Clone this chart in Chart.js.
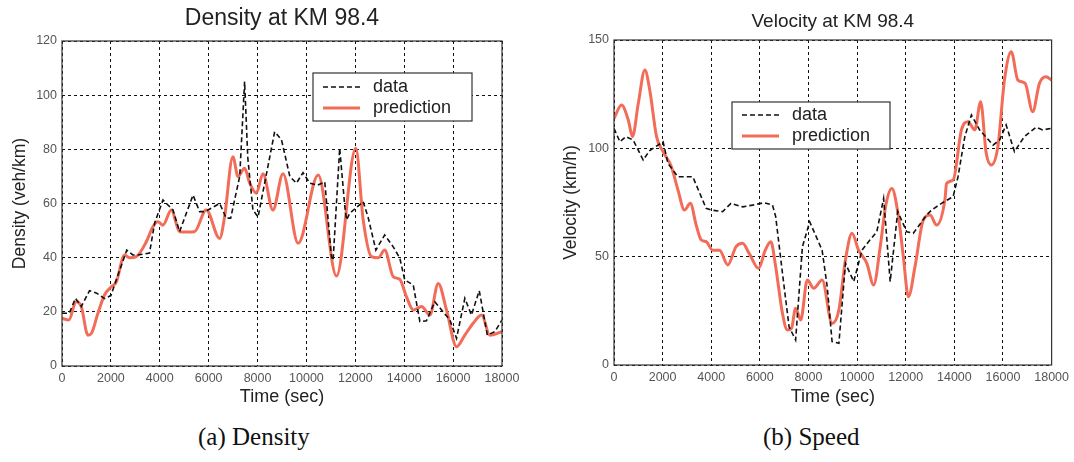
<!DOCTYPE html>
<html lang="en">
<head>
<meta charset="UTF-8">
<title>Density and Velocity at KM 98.4</title>
<style>
    * { margin: 0; padding: 0; box-sizing: border-box; }
    body { width: 1074px; height: 462px; background: #fff; position: relative; overflow: hidden; font-family: Arial, sans-serif; }
    .box { position: absolute; top: 0; height: 412px; }
    #left { left: 0; width: 540px; }
    #right { left: 545px; width: 529px; }
    .caption { position: absolute; top: 423px; font-family: "Liberation Serif", "DejaVu Serif", serif; font-size: 25px; color: #111; }
</style>
</head>
<body>
<div class="box" id="left"><canvas id="densityChart"></canvas></div>
<div class="box" id="right"><canvas id="velocityChart"></canvas></div>
<div class="caption" style="left:198px">(a) Density</div>
<div class="caption" style="left:763px">(b) Speed</div>

<script src="https://cdn.jsdelivr.net/npm/chart.js"></script>
<script>
    // density at KM 98.4 (veh/km)
    const densityDataT = [0, 300, 550, 790, 1125, 1400, 1740, 2000, 2220, 2650, 2900, 3100, 3580, 3790, 4130, 4540, 4810, 5360, 5630, 5800, 5970, 6450, 6720, 6900, 7270, 7470, 7600, 7810, 8020, 8700, 8980, 9320, 9590, 9860, 10135, 10460, 10750, 11020, 11090, 11360, 11570, 11640, 11770, 12320, 12520, 12840, 13200, 13550, 13820, 14020, 14370, 14640, 14910, 15250, 15590, 15870, 16140, 16480, 16750, 17070, 17400, 17710, 18000];
    const densityData = [19.5, 19.5, 25, 22, 27.8, 27, 24.9, 26, 31.8, 42.8, 41, 41, 41.7, 52.8, 61.3, 57.6, 49.6, 63.1, 57, 57, 57.6, 60, 54.6, 54.6, 70, 105, 77, 57.6, 55, 86.5, 83.5, 70, 67.5, 71.4, 67.5, 66.8, 68, 40.4, 39, 80.4, 58.8, 54, 56.4, 60.7, 55, 42.8, 48.4, 44, 39.8, 31.8, 29.9, 16.4, 16.7, 23.7, 20, 17, 10.2, 25, 18.8, 27.8, 11.4, 12.7, 17];
    const densityPredT = [0, 280, 580, 790, 1060, 1200, 1470, 1740, 2020, 2220, 2560, 2760, 3040, 3450, 3720, 3920, 4130, 4470, 4810, 5020, 5420, 5900, 6450, 6650, 6990, 7200, 7470, 7680, 7950, 8220, 8630, 9040, 9660, 10480, 11230, 12020, 12320, 12660, 12940, 13200, 13550, 13820, 14090, 14370, 14710, 15050, 15390, 15730, 16140, 16480, 16820, 17170, 17500, 18000];
    const densityPred = [17.6, 17, 23.7, 21.9, 11.4, 12, 19.5, 26.2, 29.3, 31, 41, 40, 40.4, 45.9, 51.4, 53.3, 52, 57.6, 49.6, 49.5, 49.6, 57.6, 47.1, 55, 77.3, 70, 73, 67.5, 63.8, 71, 57.6, 71, 45.3, 70.5, 33.2, 80.4, 54, 40.4, 40, 42.8, 33, 32, 25.6, 20.7, 22, 18.8, 30.5, 20.7, 7.1, 11.4, 15.8, 18.8, 11.4, 12.7];

    // velocity at KM 98.4 (km/h)
    const velocityDataT = [0, 245, 490, 790, 1200, 1470, 2020, 2220, 2630, 3240, 3790, 4000, 4470, 4810, 5290, 5700, 6180, 6520, 6650, 6930, 7200, 7470, 7750, 8050, 8560, 8770, 8970, 9250, 9520, 9860, 10200, 10470, 10810, 11090, 11360, 11670, 12040, 12310, 12860, 13060, 13470, 13950, 14150, 14430, 14700, 15040, 15590, 15860, 16130, 16470, 16880, 17360, 17630, 18000];
    const velocityData = [109.2, 103, 105.4, 103.8, 94.6, 99, 103, 93, 86.9, 86.9, 72.3, 71.5, 70.8, 74.6, 73, 73.8, 74.9, 73.8, 68.5, 42.3, 17.7, 11.5, 54.6, 66.1, 53, 36.1, 10.8, 10, 46.9, 38.5, 53, 56.9, 61.5, 76.9, 38.5, 70.8, 61.5, 60.8, 69.2, 71.5, 74.6, 77.7, 86.9, 105.4, 115.4, 108.5, 101.5, 103.8, 110.8, 98.5, 105.4, 109.7, 108.5, 109.2];
    const velocityPredT = [0, 310, 590, 760, 1000, 1270, 1470, 1750, 2020, 2360, 2630, 2900, 3140, 3380, 3590, 3790, 4060, 4340, 4680, 5020, 5290, 5560, 5950, 6220, 6450, 6650, 6930, 7130, 7300, 7470, 7680, 7950, 8220, 8560, 8970, 9250, 9520, 9790, 10060, 10400, 10680, 10950, 11180, 11430, 11700, 11900, 12110, 12380, 12720, 13000, 13270, 13610, 13680, 13950, 14290, 14560, 14840, 15080, 15310, 15520, 15790, 16060, 16340, 16610, 16910, 17220, 17500, 17770, 18000];
    const velocityPred = [113.8, 120, 113, 105.4, 120.8, 136.2, 126.9, 105.4, 98.5, 91.5, 80.8, 71.5, 74.6, 64.6, 57.7, 56.9, 53, 53, 46.2, 54.6, 56.2, 51.5, 44.6, 53, 56.9, 45.4, 23.8, 16.2, 16.9, 26.2, 20.8, 39.2, 35.4, 39.2, 19.2, 25.4, 48.5, 60.8, 53, 46.9, 36.9, 54.6, 73.8, 81.5, 68.5, 50, 31.5, 45.4, 66.9, 69.2, 64.6, 76.2, 83.8, 85.4, 108.5, 112.3, 108.5, 121.5, 97.7, 92.3, 100.8, 131.5, 144.6, 131.5, 130, 116.9, 130, 133, 131.5];

    const densityTicks = [0, 20, 40, 60, 80, 100, 120];
    const velocityTicks = [0, 50, 100, 150];
    const timeTicks = [0, 2000, 4000, 6000, 8000, 10000, 12000, 14000, 16000, 18000];

    const RED = 'rgb(242, 108, 88)';

    function pts(xs, ys) {
        return xs.map((x, i) => ({ x: x, y: ys[i] }));
    }

    // frame around plot + legend box + title
    const decor = {
        id: 'decor',
        afterDraw(chart, args, opts) {
            const ctx = chart.ctx;
            const a = chart.chartArea;
            ctx.save();
            ctx.strokeStyle = '#333';
            ctx.lineWidth = 1.2;
            ctx.strokeRect(a.left, a.top, a.right - a.left, a.bottom - a.top);

            // title
            ctx.fillStyle = '#222';
            ctx.font = opts.titleSize + 'px Arial';
            ctx.textAlign = 'center';
            ctx.textBaseline = 'middle';
            ctx.fillText(opts.title, (a.left + a.right) / 2, opts.titleY);

            // legend
            const b = opts.legend;
            ctx.fillStyle = '#fff';
            ctx.fillRect(b.x, b.y, b.w, b.h);
            ctx.strokeStyle = '#333';
            ctx.lineWidth = 1.2;
            ctx.strokeRect(b.x, b.y, b.w, b.h);
            ctx.font = '18px Arial';
            ctx.textAlign = 'left';
            chart.data.datasets.forEach((ds, i) => {
                const yy = b.y + b.row0 + i * 21;
                ctx.beginPath();
                ctx.strokeStyle = ds.borderColor;
                ctx.lineWidth = ds.borderWidth;
                ctx.setLineDash(ds.borderDash || []);
                ctx.moveTo(b.x + 10, yy);
                ctx.lineTo(b.x + 47, yy);
                ctx.stroke();
                ctx.setLineDash([]);
                ctx.fillStyle = '#222';
                ctx.fillText(ds.label, b.x + 60, yy);
            });
            ctx.restore();
        }
    };

    function makeChart(id, cfg) {
        return new Chart(document.getElementById(id), {
            type: 'line',
            data: {
                datasets: [
                    {
                        label: 'data',
                        data: pts(cfg.dataT, cfg.data),
                        borderColor: '#111',
                        borderWidth: 1.6,
                        borderDash: [5, 3],
                        pointRadius: 0,
                        tension: 0,
                        order: 1
                    },
                    {
                        label: 'prediction',
                        data: pts(cfg.predT, cfg.pred),
                        borderColor: RED,
                        borderWidth: 3,
                        pointRadius: 0,
                        cubicInterpolationMode: 'monotone',
                        order: 2
                    }
                ]
            },
            options: {
                responsive: true,
                maintainAspectRatio: false,
                animation: false,
                layout: { padding: cfg.padding },
                plugins: {
                    legend: { display: false },
                    tooltip: { enabled: false },
                    decor: { title: cfg.title, titleSize: cfg.titleSize, titleY: cfg.titleY, legend: cfg.legend }
                },
                scales: {
                    x: {
                        type: 'linear',
                        min: 0,
                        max: 18000,
                        afterBuildTicks: s => { s.ticks = timeTicks.map(v => ({ value: v })); },
                        afterFit: s => { s.height = cfg.xHeight; },
                        grid: { color: '#111', lineWidth: 1, drawTicks: false },
                        border: { display: false, dash: [3, 3] },
                        ticks: { color: '#555', font: { size: 12.5, family: 'Arial' }, padding: 5, maxRotation: 0, callback: v => String(v) },
                        title: { display: true, text: 'Time (sec)', color: '#222', font: { size: 18, family: 'Arial' }, padding: { top: 0 } }
                    },
                    y: {
                        min: 0,
                        max: cfg.yMax,
                        afterBuildTicks: s => { s.ticks = cfg.yTicks.map(v => ({ value: v })); },
                        afterFit: s => { s.width = cfg.yWidth; },
                        grid: { color: '#111', lineWidth: 1, drawTicks: false },
                        border: { display: false, dash: [3, 3] },
                        ticks: { color: '#555', font: { size: 12.5, family: 'Arial' }, padding: 5 },
                        title: { display: true, text: cfg.yTitle, color: '#222', font: { size: 17.5, family: 'Arial' }, padding: cfg.yTitlePad }
                    }
                }
            },
            plugins: [decor]
        });
    }

    makeChart('densityChart', {
        dataT: densityDataT, data: densityData, predT: densityPredT, pred: densityPred,
        yMax: 120, yTicks: densityTicks, yTitle: 'Density (veh/km)',
        title: 'Density at KM 98.4', titleSize: 23, titleY: 19,
        padding: { top: 41, right: 38, left: 0, bottom: 0 },
        yWidth: 62, xHeight: 46, yTitlePad: { top: 10, bottom: 0 },
        legend: { x: 313, y: 73, w: 159, h: 48, row0: 14 }
    });

    makeChart('velocityChart', {
        dataT: velocityDataT, data: velocityData, predT: velocityPredT, pred: velocityPred,
        yMax: 150, yTicks: velocityTicks, yTitle: 'Velocity (km/h)',
        title: 'Velocity at KM 98.4', titleSize: 19, titleY: 22,
        padding: { top: 40, right: 20, left: 0, bottom: 0 },
        yWidth: 69, xHeight: 47, yTitlePad: { top: 16, bottom: 0 },
        legend: { x: 187, y: 102, w: 158, h: 47, row0: 13 }
    });
</script>
</body>
</html>
